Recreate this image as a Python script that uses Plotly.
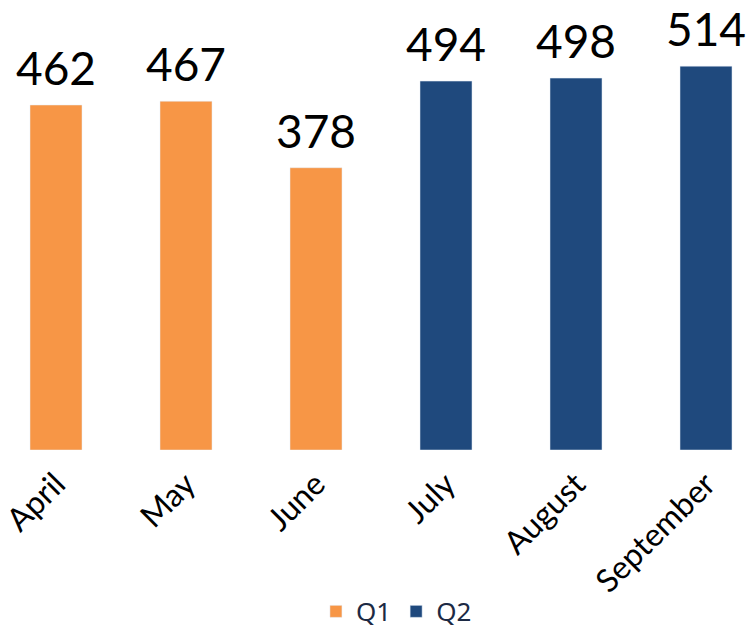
import plotly.graph_objects as go

months = ["April", "May", "June", "July", "August", "September"]
q1_months = ["April", "May", "June"]
q1_values = [462, 467, 378]
q2_months = ["July", "August", "September"]
q2_values = [494, 498, 514]

ORANGE = "#F79646"
NAVY = "#1F497D"
FONT = "Lato, 'Noto Sans', sans-serif"

fig = go.Figure()
fig.add_trace(go.Bar(x=q1_months, y=q1_values, name="Q1", marker_color=ORANGE))
fig.add_trace(go.Bar(x=q2_months, y=q2_values, name="Q2", marker_color=NAVY))

for m, v in list(zip(q1_months, q1_values)) + list(zip(q2_months, q2_values)):
    fig.add_annotation(x=m, y=v, text=str(v), showarrow=False, yanchor="bottom",
                       yshift=8, font=dict(family=FONT, size=46, color="#000000"))

fig.update_layout(
    width=748, height=635,
    margin=dict(l=0, r=0, t=0, b=185, autoexpand=False),
    paper_bgcolor="white", plot_bgcolor="white",
    barmode="overlay", bargap=0.6,
    showlegend=True,
    legend=dict(orientation="h", x=0.53, xanchor="center", y=-0.411, yanchor="bottom",
                font=dict(family="'Noto Sans', sans-serif", size=26, color="#1c2a44"),
                itemwidth=30),
    xaxis=dict(categoryorder="array", categoryarray=months, automargin=False,
               range=[-0.4308, 5.323], tickangle=-45, showgrid=False, showline=False,
               ticks="", ticklabelstandoff=8,
               tickfont=dict(family=FONT, size=32, color="#000000")),
    yaxis=dict(range=[0, 602.6], visible=False, showgrid=False, automargin=False),
)

fig.write_html("out.html", config={"displayModeBar": False},
               post_script="document.body.style.margin='0';document.body.style.overflow='hidden';")
